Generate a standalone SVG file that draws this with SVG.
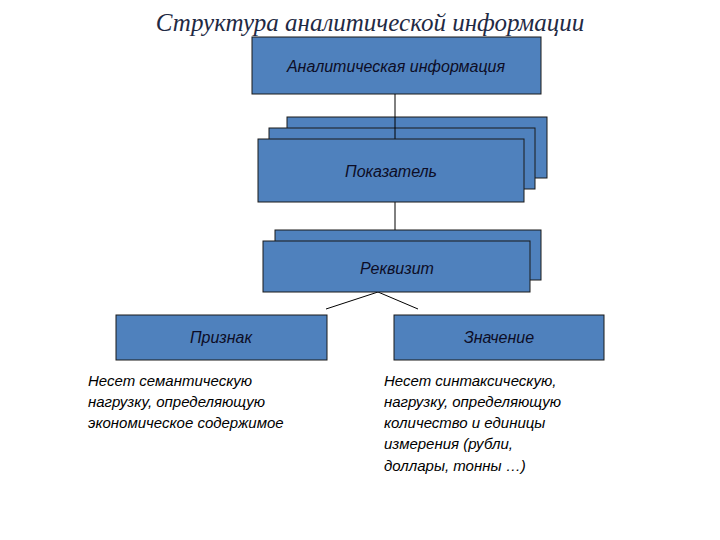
<svg xmlns="http://www.w3.org/2000/svg" width="720" height="540" viewBox="0 0 720 540">
<style>
.b{fill:#4f81bd;stroke:#1a1a1a;stroke-width:1}
.t{font-family:"Liberation Sans",Arial,sans-serif;font-style:italic;font-size:16px;fill:#0d0d26;text-anchor:middle}
.d{font-family:"Liberation Sans",Arial,sans-serif;font-style:italic;font-size:15px;fill:#000}
.c{stroke:#000;stroke-width:1;fill:none}
</style>
<rect width="720" height="540" fill="#fff"/>
<text x="370" y="31" font-family="'Liberation Serif',serif" font-style="italic" font-size="25" fill="#1f2a44" text-anchor="middle">Структура аналитической информации</text>
<g id="n1"><rect class="b" x="252" y="37" width="289" height="57"/><text class="t" x="396" y="72">Аналитическая информация</text></g>
<g id="n2"><rect class="b" x="287" y="117" width="260" height="61"/><rect class="b" x="269" y="128" width="266" height="61"/></g>
<g id="connectors">
<line class="c" x1="395" y1="94" x2="395" y2="139"/>
<line class="c" x1="395" y1="202" x2="395" y2="241"/>
<line class="c" x1="378" y1="292" x2="326" y2="309"/>
<line class="c" x1="378" y1="292" x2="418" y2="309"/>
</g>
<g id="n3"><rect class="b" x="258" y="139" width="266" height="63"/><text class="t" x="391" y="177">Показатель</text></g>
<g id="n4"><rect class="b" x="275" y="230" width="266" height="50"/><rect class="b" x="263" y="241" width="267" height="51"/><text class="t" x="397" y="274">Реквизит</text></g>
<g id="n5"><rect class="b" x="116" y="315" width="211" height="45"/><text class="t" x="221" y="343">Признак</text></g>
<g id="n6"><rect class="b" x="394" y="315" width="210" height="45"/><text class="t" x="499" y="343">Значение</text></g>
<text class="d"><tspan x="88" y="386">Несет семантическую</tspan><tspan x="88" y="407">нагрузку, определяющую</tspan><tspan x="88" y="428">экономическое содержимое</tspan></text>
<text class="d"><tspan x="384" y="386">Несет синтаксическую,</tspan><tspan x="384" y="407">нагрузку, определяющую</tspan><tspan x="384" y="428">количество и единицы</tspan><tspan x="384" y="449">измерения (рубли,</tspan><tspan x="384" y="471">доллары, тонны …)</tspan></text>
</svg>
